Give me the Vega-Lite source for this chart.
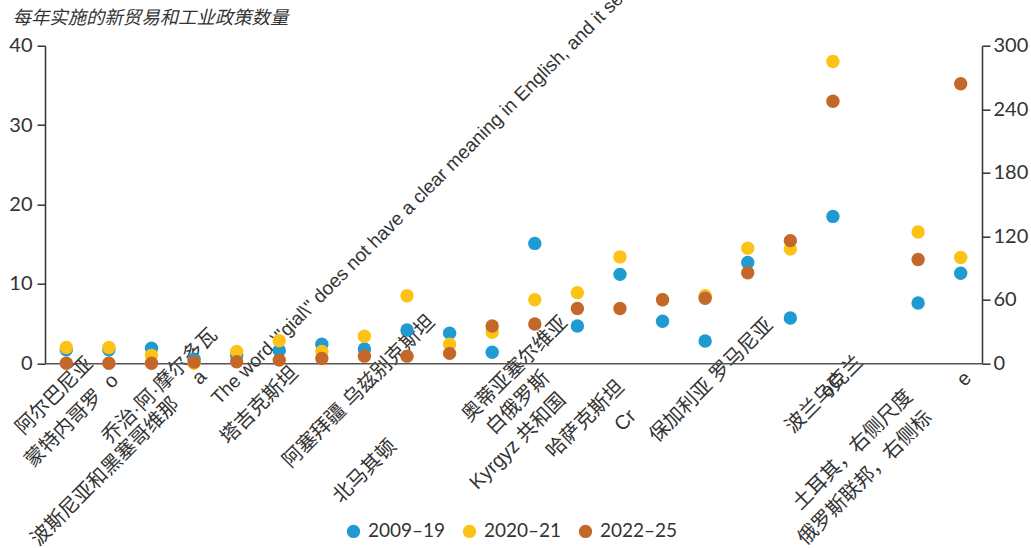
{
  "$schema": "https://vega.github.io/schema/vega-lite/v6.json",
  "width": 937,
  "height": 317.6,
  "autosize": {"type": "none"},
  "padding": {"left": 45, "top": 45.7, "right": 49, "bottom": 184.7},
  "background": "white",
  "config": {"view": {"stroke": null}, "font": "Lato"},
  "datasets": {
    "left": [
      {"country": "阿尔巴尼亚", "period": "2009–19", "value": 1.7},
      {"country": "蒙特内哥罗\u00a0\u00a0o", "period": "2009–19", "value": 1.7},
      {"country": "乔治·阿·摩尔多瓦", "period": "2009–19", "value": 1.9},
      {"country": "波斯尼亚和黑塞哥维那\u00a0\u00a0\u00a0\u00a0\u00a0a", "period": "2009–19", "value": 0.5},
      {"country": "The word \\\"gial\\\" does not have a clear meaning in English, and it seems", "period": "2009–19", "value": 1.0},
      {"country": "塔吉克斯坦", "period": "2009–19", "value": 1.6},
      {"country": "#7", "period": "2009–19", "value": 2.4},
      {"country": "阿塞拜疆\u00a0乌兹别克斯坦", "period": "2009–19", "value": 1.8},
      {"country": "#9", "period": "2009–19", "value": 4.2},
      {"country": "北马其顿", "period": "2009–19", "value": 3.8},
      {"country": "奥蒂亚塞尔维亚", "period": "2009–19", "value": 1.4},
      {"country": "白俄罗斯", "period": "2009–19", "value": 15.1},
      {"country": "Kyrgyz 共和国", "period": "2009–19", "value": 4.7},
      {"country": "哈萨克斯坦", "period": "2009–19", "value": 11.2},
      {"country": "Cr", "period": "2009–19", "value": 5.3},
      {"country": "保加利亚\u00a0罗马尼亚", "period": "2009–19", "value": 2.8},
      {"country": "#17", "period": "2009–19", "value": 12.7},
      {"country": "#18", "period": "2009–19", "value": 5.7},
      {"country": "波兰乌克兰", "period": "2009–19", "value": 18.5},
      {"country": "阿尔巴尼亚", "period": "2020–21", "value": 2.0},
      {"country": "蒙特内哥罗\u00a0\u00a0o", "period": "2020–21", "value": 2.0},
      {"country": "乔治·阿·摩尔多瓦", "period": "2020–21", "value": 1.0},
      {"country": "波斯尼亚和黑塞哥维那\u00a0\u00a0\u00a0\u00a0\u00a0a", "period": "2020–21", "value": 0.0},
      {"country": "The word \\\"gial\\\" does not have a clear meaning in English, and it seems", "period": "2020–21", "value": 1.5},
      {"country": "塔吉克斯坦", "period": "2020–21", "value": 2.85},
      {"country": "#7", "period": "2020–21", "value": 1.5},
      {"country": "阿塞拜疆\u00a0乌兹别克斯坦", "period": "2020–21", "value": 3.4},
      {"country": "#9", "period": "2020–21", "value": 8.5},
      {"country": "北马其顿", "period": "2020–21", "value": 2.4},
      {"country": "奥蒂亚塞尔维亚", "period": "2020–21", "value": 3.9},
      {"country": "白俄罗斯", "period": "2020–21", "value": 8.0},
      {"country": "Kyrgyz 共和国", "period": "2020–21", "value": 8.9},
      {"country": "哈萨克斯坦", "period": "2020–21", "value": 13.4},
      {"country": "Cr", "period": "2020–21", "value": 8.0},
      {"country": "保加利亚\u00a0罗马尼亚", "period": "2020–21", "value": 8.5},
      {"country": "#17", "period": "2020–21", "value": 14.5},
      {"country": "#18", "period": "2020–21", "value": 14.4},
      {"country": "波兰乌克兰", "period": "2020–21", "value": 38.0},
      {"country": "阿尔巴尼亚", "period": "2022–25", "value": 0.0},
      {"country": "蒙特内哥罗\u00a0\u00a0o", "period": "2022–25", "value": 0.0},
      {"country": "乔治·阿·摩尔多瓦", "period": "2022–25", "value": 0.0},
      {"country": "波斯尼亚和黑塞哥维那\u00a0\u00a0\u00a0\u00a0\u00a0a", "period": "2022–25", "value": 0.15},
      {"country": "The word \\\"gial\\\" does not have a clear meaning in English, and it seems", "period": "2022–25", "value": 0.2},
      {"country": "塔吉克斯坦", "period": "2022–25", "value": 0.4},
      {"country": "#7", "period": "2022–25", "value": 0.6},
      {"country": "阿塞拜疆\u00a0乌兹别克斯坦", "period": "2022–25", "value": 0.9},
      {"country": "#9", "period": "2022–25", "value": 0.9},
      {"country": "北马其顿", "period": "2022–25", "value": 1.25},
      {"country": "奥蒂亚塞尔维亚", "period": "2022–25", "value": 4.7},
      {"country": "白俄罗斯", "period": "2022–25", "value": 4.95},
      {"country": "Kyrgyz 共和国", "period": "2022–25", "value": 6.9},
      {"country": "哈萨克斯坦", "period": "2022–25", "value": 6.9},
      {"country": "Cr", "period": "2022–25", "value": 8.0},
      {"country": "保加利亚\u00a0罗马尼亚", "period": "2022–25", "value": 8.2},
      {"country": "#17", "period": "2022–25", "value": 11.4},
      {"country": "#18", "period": "2022–25", "value": 15.45},
      {"country": "波兰乌克兰", "period": "2022–25", "value": 33.0}
    ],
    "right": [
      {"country": "土耳其，右侧尺度", "period": "2009–19", "value": 57},
      {"country": "俄罗斯联邦，右侧标\u00a0\u00a0\u00a0\u00a0\u00a0\u00a0\u00a0\u00a0e", "period": "2009–19", "value": 85},
      {"country": "土耳其，右侧尺度", "period": "2020–21", "value": 124},
      {"country": "俄罗斯联邦，右侧标\u00a0\u00a0\u00a0\u00a0\u00a0\u00a0\u00a0\u00a0e", "period": "2020–21", "value": 100},
      {"country": "土耳其，右侧尺度", "period": "2022–25", "value": 98},
      {"country": "俄罗斯联邦，右侧标\u00a0\u00a0\u00a0\u00a0\u00a0\u00a0\u00a0\u00a0e", "period": "2022–25", "value": 264}
    ]
  },
  "encoding": {
    "x": {
      "field": "country",
      "type": "nominal",
      "sort": null,
      "scale": {
        "domain": [
          "阿尔巴尼亚",
          "蒙特内哥罗\u00a0\u00a0o",
          "乔治·阿·摩尔多瓦",
          "波斯尼亚和黑塞哥维那\u00a0\u00a0\u00a0\u00a0\u00a0a",
          "The word \\\"gial\\\" does not have a clear meaning in English, and it seems",
          "塔吉克斯坦",
          "#7",
          "阿塞拜疆\u00a0乌兹别克斯坦",
          "#9",
          "北马其顿",
          "奥蒂亚塞尔维亚",
          "白俄罗斯",
          "Kyrgyz 共和国",
          "哈萨克斯坦",
          "Cr",
          "保加利亚\u00a0罗马尼亚",
          "#17",
          "#18",
          "波兰乌克兰",
          "oC",
          "土耳其，右侧尺度",
          "俄罗斯联邦，右侧标\u00a0\u00a0\u00a0\u00a0\u00a0\u00a0\u00a0\u00a0e"
        ]
      },
      "axis": {
        "title": null,
        "grid": false,
        "ticks": false,
        "tickSize": 0,
        "domainColor": "#555555",
        "domainWidth": 1.5,
        "labelExpr": "indexof(datum.value, '#') == 0 ? '' : datum.value",
        "labelAngle": -45,
        "labelAlign": {"condition": {"test": "round(datum.index * 21) == 4", "value": "left"}, "value": "center"},
        "labelBaseline": "middle",
        "labelFontSize": {"condition": {"test": "round(datum.index * 21) == 4", "value": 19}, "value": 20},
        "labelOffset": {"expr": "[-12.3, -37.4, 8, -75.6, -22.5, -20.3, 0, -6, 0, -85.2, 22.3, -17.3, -59.9, -35, -37.6, 5.8, 0, 0, -9, -43.6, -65.7, -76.3][round(datum.index * 21)]"},
        "labelPadding": {"expr": "[32.2, 56.7, 22.2, 94.2, 37.5, 41.7, 0, 27.7, 0, 107.7, 5.2, 39.2, 77.7, 55.7, 56.7, 16.7, 0, 0, 30.7, 21.7, 86.2, 94.7][round(datum.index * 21)]"},
        "labelOverlap": false,
        "labelBound": false,
        "labelFlush": false,
        "labelLimit": 2000,
        "labelFont": "Liberation Sans, Noto Sans CJK SC",
        "labelColor": "#333333"
      }
    },
    "color": {
      "field": "period",
      "type": "nominal",
      "scale": {"domain": ["2009–19", "2020–21", "2022–25"], "range": ["#1f9bd2", "#fdc216", "#c4682a"]},
      "legend": {
        "orient": "none",
        "legendX": 299,
        "legendY": 476,
        "direction": "horizontal",
        "title": null,
        "symbolType": "circle",
        "symbolSize": 177,
        "symbolStrokeWidth": 0,
        "symbolOpacity": 1,
        "labelFontSize": 19,
        "labelFont": "Lato",
        "labelColor": "#333333",
        "labelOffset": 5,
        "columnPadding": 14,
        "padding": 0
      }
    }
  },
  "layer": [
    {
      "data": {"name": "left"},
      "mark": {"type": "circle", "size": 180, "opacity": 1},
      "encoding": {
        "y": {
          "field": "value",
          "type": "quantitative",
          "scale": {"domain": [0, 40], "nice": false},
          "axis": {
            "orient": "left",
            "values": [0, 10, 20, 30, 40],
            "grid": false,
            "tickSize": 8,
            "tickWidth": 1.5,
            "tickColor": "#333333",
            "domainColor": "#333333",
            "domainWidth": 1.5,
            "labelFont": "Lato",
            "labelFontSize": 20,
            "labelColor": "#333333",
            "labelPadding": 5,
            "title": "每年实施的新贸易和工业政策数量",
            "titleAngle": 0,
            "titleAlign": "left",
            "titleBaseline": "middle",
            "titleX": -33,
            "titleY": -28,
            "titleFont": "Noto Sans CJK SC",
            "titleFontSize": 18.4,
            "titleFontStyle": "italic",
            "titleFontWeight": "normal",
            "titleColor": "#333333"
          }
        }
      }
    },
    {
      "data": {"name": "right"},
      "mark": {"type": "circle", "size": 180, "opacity": 1},
      "encoding": {
        "y": {
          "field": "value",
          "type": "quantitative",
          "scale": {"domain": [0, 300], "nice": false},
          "axis": {
            "orient": "right",
            "values": [0, 60, 120, 180, 240, 300],
            "grid": false,
            "tickSize": 8,
            "tickWidth": 1.5,
            "tickColor": "#333333",
            "domainColor": "#333333",
            "domainWidth": 1.5,
            "labelFont": "Lato",
            "labelFontSize": 20,
            "labelColor": "#333333",
            "labelPadding": 3,
            "title": null
          }
        }
      }
    }
  ],
  "resolve": {"scale": {"y": "independent"}}
}
